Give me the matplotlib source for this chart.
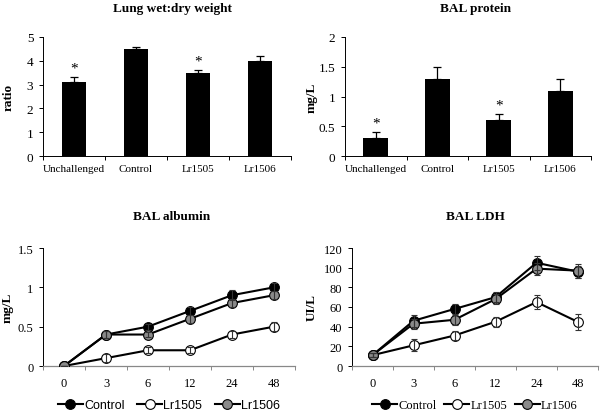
import matplotlib
matplotlib.use("Agg")
import matplotlib.pyplot as plt
import numpy as np

SERIF = ["Liberation Serif", "DejaVu Serif"]
plt.rcParams["font.family"] = SERIF

# --- data -------------------------------------------------------------
groups = ["Unchallenged", "Control", "Lr1505", "Lr1506"]
wetdry = [3.1, 4.5, 3.5, 4.0]
wetdry_err = [0.2, 0.1, 0.1, 0.2]
wetdry_sig = [True, False, True, False]

protein = [0.3, 1.3, 0.6, 1.1]
protein_err = [0.1, 0.2, 0.1, 0.2]
protein_sig = [True, False, True, False]

hours = ["0", "3", "6", "12", "24", "48"]
series = ["Control", "Lr1505", "Lr1506"]

alb_control = [0.0, 0.4, 0.5, 0.7, 0.9, 1.0]
alb_control_err = [0.0, 0.05, 0.04, 0.05, 0.06, 0.05]
alb_1505 = [0.0, 0.1, 0.2, 0.2, 0.4, 0.5]
alb_1505_err = [0.0, 0.05, 0.04, 0.04, 0.05, 0.06]
alb_1506 = [0.0, 0.4, 0.4, 0.6, 0.8, 0.9]
alb_1506_err = [0.0, 0.05, 0.03, 0.05, 0.05, 0.05]

ldh_control = [11, 46, 58, 70, 105, 96]
ldh_control_err = [2, 6, 5, 5, 7, 6]
ldh_1505 = [11, 21, 31, 45, 65, 45]
ldh_1505_err = [2, 6, 5, 5, 7, 8]
ldh_1506 = [11, 43, 47, 68, 99, 97]
ldh_1506_err = [2, 5, 5, 5, 6, 7]

FACES = {"Control": "black", "Lr1505": "white", "Lr1506": "#8a8a8a"}

fig = plt.figure(figsize=(6.0, 4.14), dpi=100)


def px(x0, y0, x1, y1):
    """pixel box (top-left origin) -> figure fraction rect"""
    W, H = 600, 414
    return [x0 / W, 1 - y1 / H, (x1 - x0) / W, (y1 - y0) / H]


def bar_panel(rect, vals, errs, sig, ymax, step, ylabel, title, title_x, ylabel_x):
    ax = fig.add_axes(px(*rect))
    x = np.arange(len(groups))
    ax.bar(x, vals, width=0.4, color="black", zorder=2)
    ax.errorbar(x, vals, yerr=[np.zeros(len(vals)), errs], fmt="none",
                ecolor="black", elinewidth=0.9, capsize=3, capthick=0.9, zorder=3)
    for xi, v, e, s in zip(x, vals, errs, sig):
        if s:
            ax.annotate("*", (xi, v + e), xytext=(0, 2), textcoords="offset points",
                        ha="center", va="bottom", fontsize=11)
    ax.set_xlim(-0.5, len(groups) - 0.5)
    ax.set_ylim(0, ymax)
    ticks = np.arange(0, ymax + 1e-9, step)
    ax.set_yticks(ticks)
    ax.set_yticklabels([f"{t:g}" for t in ticks], fontsize=9.5)
    ax.set_xticks(x)
    ax.set_xticklabels(groups, fontsize=8)
    ax.set_xticks(np.arange(-0.5, len(groups)), minor=True)
    ax.tick_params(axis="x", which="major", length=0, pad=6)
    ax.tick_params(axis="x", which="minor", length=3, width=0.7, direction="out")
    ax.tick_params(axis="y", length=3, width=0.7, direction="out", pad=4)
    for s in ("top", "right"):
        ax.spines[s].set_visible(False)
    for s in ("left", "bottom"):
        ax.spines[s].set_linewidth(0.7)
    fig.text(title_x / 600, 1 - 9 / 414, title, ha="center", va="center",
             fontsize=9.5, fontweight="bold")
    fig.text(ylabel_x / 600, 1 - ((rect[1] + rect[3]) / 2) / 414, ylabel, rotation=90,
             ha="center", va="center", fontsize=9.5, fontweight="bold")
    return ax


def line_panel(rect, data, ymax, step, ylabel, title, title_x, ylabel_x,
               legend_font, colspace):
    ax = fig.add_axes(px(*rect))
    x = np.arange(len(hours))
    handles = []
    for name, (vals, errs) in zip(series, data):
        h, = ax.plot(x, vals, "-o", color="black", lw=1.5, ms=7,
                     mfc=FACES[name], mec="black", mew=0.8, zorder=3, label=name)
        ax.errorbar(x, vals, yerr=errs, fmt="none", ecolor="#333333",
                    elinewidth=0.8, capsize=2.5, capthick=0.8, zorder=4)
        handles.append(h)
    ax.set_xlim(-0.5, len(hours) - 0.5)
    ax.set_ylim(0, ymax)
    ticks = np.arange(0, ymax + 1e-9, step)
    ax.set_yticks(ticks)
    ax.set_yticklabels([f"{t:g}" for t in ticks], fontsize=9)
    ax.set_xticks(x)
    ax.set_xticklabels(hours, fontsize=9)
    ax.set_xticks(np.arange(-0.5, len(hours)), minor=True)
    ax.tick_params(axis="x", which="major", length=0, pad=8)
    ax.tick_params(axis="x", which="minor", length=3, width=0.7, direction="out",
                   color="#888888")
    ax.tick_params(axis="y", length=3, width=0.7, direction="out", pad=4)
    for s in ("top", "right"):
        ax.spines[s].set_visible(False)
    ax.spines["left"].set_linewidth(0.7)
    ax.spines["bottom"].set_linewidth(0.9)
    ax.spines["bottom"].set_color("#888888")
    fig.text(title_x / 600, 1 - 217 / 414, title, ha="center", va="center",
             fontsize=9.5, fontweight="bold")
    fig.text(ylabel_x / 600, 1 - ((rect[1] + rect[3]) / 2) / 414, ylabel, rotation=90,
             ha="center", va="center", fontsize=9.5, fontweight="bold")
    fig.legend(handles=handles, loc="center",
               bbox_to_anchor=((rect[0] + rect[2]) / 2 / 600, 1 - 406 / 414),
               ncol=3, frameon=False, handlelength=2.0, handletextpad=0.1,
               columnspacing=colspace, prop={"family": legend_font, "size": 9})
    return ax


bar_panel((43, 38, 291, 157), wetdry, wetdry_err, wetdry_sig, 5, 1,
          "ratio", "Lung wet:dry weight", 172, 9)
bar_panel((345, 38, 591, 157), protein, protein_err, protein_sig, 2, 0.5,
          "mg/L", "BAL protein", 475, 312)

line_panel((43, 249, 295, 367),
           [(alb_control, alb_control_err), (alb_1505, alb_1505_err),
            (alb_1506, alb_1506_err)],
           1.5, 0.5, "mg/L", "BAL albumin", 172, 8,
           ["Liberation Sans", "DejaVu Sans"], 1.0)
line_panel((352, 249, 598, 367),
           [(ldh_control, ldh_control_err), (ldh_1505, ldh_1505_err),
            (ldh_1506, ldh_1506_err)],
           120, 20, "UI/L", "BAL LDH", 475, 312, SERIF, 0.6)

fig.savefig("out.png", dpi=100)
